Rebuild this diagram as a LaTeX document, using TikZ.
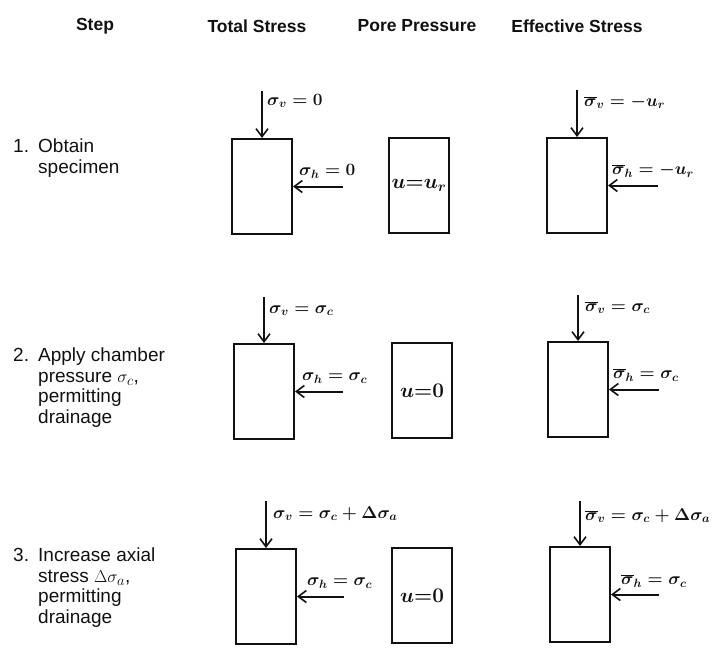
\documentclass[tikz,border=0pt]{standalone}
\usepackage{fontspec}
\setmainfont{Liberation Sans}
\usetikzlibrary{positioning,arrows.meta}
\usepackage{xcolor}
\definecolor{ink}{HTML}{111111}

\tikzset{
  head/.style={font=\fontsize{17.5}{20}\selectfont\bfseries, text=ink, inner sep=0pt},
  steptext/.style={font=\fontsize{19}{20.5}\selectfont, text=ink, align=left, anchor=north west, inner sep=0pt},
  specimen/.style={draw=ink, line width=2pt, minimum width=60pt, minimum height=95pt, inner sep=0pt,
    font=\fontsize{19.5}{20}\selectfont\boldmath, text=ink},
  load/.style={draw=ink, line width=2pt, -{Straight Barb[length=8pt,width=12pt,line width=1.6pt]}},
  lbl/.style={font=\fontsize{18.5}{21}\selectfont\boldmath, text=ink,
    inner sep=0pt, anchor=base west}
}
\newcommand{\stepno}[1]{\makebox[25pt][l]{#1}}

\begin{document}
\begin{tikzpicture}[x=1pt, y=-1pt]
  \useasboundingbox (0,0) rectangle (721,648);

  \node[head] (hstep) at (95,26) {Step};
  \node[head] (htot) at (257,26) {Total Stress};
  \node[head] (hpore) at (417,26) {Pore Pressure};
  \node[head] (heff) at (577,26) {Effective Stress};

  \node[steptext] (st1) at (13,139) {\stepno{1.}Obtain\\\hspace*{25pt}specimen};
  \node[steptext] (st2) at (13,348) {\stepno{2.}Apply chamber\\\hspace*{25pt}pressure $\sigma_c$,\\\hspace*{25pt}permitting\\\hspace*{25pt}drainage};
  \node[steptext] (st3) at (13,548) {\stepno{3.}Increase axial\\\hspace*{25pt}stress $\Delta\sigma_a$,\\\hspace*{25pt}permitting\\\hspace*{25pt}drainage};

  \node[specimen] (t1) at (262,186.5) {};
  \node[specimen] (p1) at (419,185.5) {$u{=}u_r$};
  \node[specimen] (e1) at (577,185.5) {};
  \coordinate[above=47pt of t1.north] (tv1);
  \coordinate[right=50pt of t1.east] (th1);
  \coordinate[above=47pt of e1.north] (ev1);
  \coordinate[right=50pt of e1.east] (eh1);
  \draw[load] (tv1) -- (t1.north);
  \draw[load] (th1) -- (t1.east);
  \draw[load] (ev1) -- (e1.north);
  \draw[load] (eh1) -- (e1.east);
  \node[lbl, xshift=5pt, yshift=-14pt] (tsv1) at (tv1) {$\sigma_v = 0$};
  \node[lbl, xshift=6pt, yshift=11pt] (tsh1) at (t1.east) {$\sigma_h = 0$};
  \node[lbl, xshift=7pt, yshift=-16pt] (esv1) at (ev1) {$\overline{\sigma}_v = -u_r$};
  \node[lbl, xshift=4pt, yshift=11pt] (esh1) at (e1.east) {$\overline{\sigma}_h = -u_r$};

  \node[specimen] (t2) at (264,391.5) {};
  \node[specimen] (p2) at (422,390.5) {$u{=}0$};
  \node[specimen] (e2) at (578,389.5) {};
  \coordinate[above=46pt of t2.north] (tv2);
  \coordinate[right=48pt of t2.east] (th2);
  \coordinate[above=46pt of e2.north] (ev2);
  \coordinate[right=50pt of e2.east] (eh2);
  \draw[load] (tv2) -- (t2.north);
  \draw[load] (th2) -- (t2.east);
  \draw[load] (ev2) -- (e2.north);
  \draw[load] (eh2) -- (e2.east);
  \node[lbl, xshift=5pt, yshift=-16pt] (tsv2) at (tv2) {$\sigma_v = \sigma_c$};
  \node[lbl, xshift=7pt, yshift=11pt] (tsh2) at (t2.east) {$\sigma_h = \sigma_c$};
  \node[lbl, xshift=7pt, yshift=-16pt] (esv2) at (ev2) {$\overline{\sigma}_v = \sigma_c$};
  \node[lbl, xshift=4pt, yshift=11pt] (esh2) at (e2.east) {$\overline{\sigma}_h = \sigma_c$};

  \node[specimen] (t3) at (266,596.5) {};
  \node[specimen] (p3) at (422,595.5) {$u{=}0$};
  \node[specimen] (e3) at (580,594.5) {};
  \coordinate[above=47pt of t3.north] (tv3);
  \coordinate[right=47pt of t3.east] (th3);
  \coordinate[above=45pt of e3.north] (ev3);
  \coordinate[right=48pt of e3.east] (eh3);
  \draw[load] (tv3) -- (t3.north);
  \draw[load] (th3) -- (t3.east);
  \draw[load] (ev3) -- (e3.north);
  \draw[load] (eh3) -- (e3.east);
  \node[lbl, xshift=7pt, yshift=-17pt] (tsv3) at (tv3) {$\sigma_v = \sigma_c + \Delta\sigma_a$};
  \node[lbl, xshift=10pt, yshift=11pt] (tsh3) at (t3.east) {$\sigma_h = \sigma_c$};
  \node[lbl, xshift=5pt, yshift=-19pt] (esv3) at (ev3) {$\overline{\sigma}_v = \sigma_c + \Delta\sigma_a$};
  \node[lbl, xshift=10pt, yshift=10pt] (esh3) at (e3.east) {$\overline{\sigma}_h = \sigma_c$};
\end{tikzpicture}
\end{document}
